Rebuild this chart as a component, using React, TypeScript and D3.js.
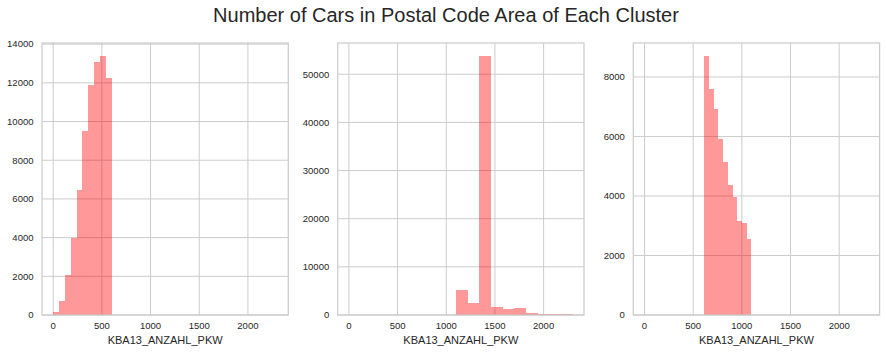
import React, { useRef, useEffect } from "react";
import * as d3 from "d3";

// histogram bins (edges + counts per cluster)
const cluster0Edges = [0, 60, 120, 180, 240, 300, 360, 420, 480, 540, 600];
const cluster0Counts = [160, 730, 2060, 3980, 6470, 9500, 11890, 13080, 13390, 12230];

const cluster1Edges = [1100, 1220, 1340, 1460, 1580, 1700, 1820, 1940, 2060, 2180, 2300];
const cluster1Counts = [5190, 2420, 53800, 1730, 1180, 1390, 350, 200, 170, 160];

const cluster2Edges = [612, 661, 709, 758, 807, 856, 904, 953, 1002, 1050, 1099];
const cluster2Counts = [8706, 7585, 6913, 5916, 5143, 4370, 3978, 3160, 3104, 2555];

const xTicks = [0, 500, 1000, 1500, 2000];
const yTicks0 = [0, 2000, 4000, 6000, 8000, 10000, 12000, 14000];
const yTicks1 = [0, 10000, 20000, 30000, 40000, 50000];
const yTicks2 = [0, 2000, 4000, 6000, 8000];

const title = "Number of Cars in Postal Code Area of Each Cluster";
const xLabel = "KBA13_ANZAHL_PKW";

const App = () => {
  const ref = useRef(null);

  useEffect(() => {
    const width = 886;
    const height = 352;
    d3.select(ref.current).select("svg").remove();

    const svg = d3
      .select(ref.current)
      .append("svg")
      .attr("width", width)
      .attr("height", height)
      .style("font-family", "'Liberation Sans', Arial, sans-serif");

    svg.append("rect").attr("width", width).attr("height", height).attr("fill", "white");

    svg
      .append("text")
      .attr("x", 446)
      .attr("y", 22)
      .attr("text-anchor", "middle")
      .attr("font-size", 20)
      .attr("fill", "#262626")
      .text(title);

    const panels = [
      { left: 42, edges: cluster0Edges, counts: cluster0Counts, ticks: yTicks0 },
      { left: 337.7, edges: cluster1Edges, counts: cluster1Counts, ticks: yTicks1 },
      { left: 633.3, edges: cluster2Edges, counts: cluster2Counts, ticks: yTicks2 },
    ];
    const pw = 246.3;
    const top = 43;
    const bottom = 315;
    const grid = "#cccccc";

    // shared x range across subplots (0..2300 + 5% margin)
    const x = d3.scaleLinear().domain([-115, 2415]).range([0, pw]);

    panels.forEach((p) => {
      const g = svg.append("g").attr("transform", `translate(${p.left},0)`);
      const ymax = d3.max(p.counts) * 1.05;
      const y = d3.scaleLinear().domain([0, ymax]).range([bottom, top]);

      // grid
      g.selectAll(".vg")
        .data(xTicks)
        .enter()
        .append("line")
        .attr("x1", (d) => x(d))
        .attr("x2", (d) => x(d))
        .attr("y1", top)
        .attr("y2", bottom)
        .attr("stroke", grid)
        .attr("stroke-width", 1);
      g.selectAll(".hg")
        .data(p.ticks)
        .enter()
        .append("line")
        .attr("x1", 0)
        .attr("x2", pw)
        .attr("y1", (d) => y(d))
        .attr("y2", (d) => y(d))
        .attr("stroke", grid)
        .attr("stroke-width", 1);

      // bars
      const bins = p.counts.map((c, i) => ({ x0: p.edges[i], x1: p.edges[i + 1], c }));
      g.selectAll(".bar")
        .data(bins)
        .enter()
        .append("rect")
        .attr("x", (d) => x(d.x0))
        .attr("width", (d) => x(d.x1) - x(d.x0))
        .attr("y", (d) => y(d.c))
        .attr("height", (d) => bottom - y(d.c))
        .attr("fill", "red")
        .attr("fill-opacity", 0.4)
        .attr("shape-rendering", "crispEdges");

      // frame
      g.append("rect")
        .attr("x", 0)
        .attr("y", top)
        .attr("width", pw)
        .attr("height", bottom - top)
        .attr("fill", "none")
        .attr("stroke", grid)
        .attr("stroke-width", 1.25);

      // tick labels
      g.selectAll(".xt")
        .data(xTicks)
        .enter()
        .append("text")
        .attr("x", (d) => x(d))
        .attr("y", 328.5)
        .attr("text-anchor", "middle")
        .attr("font-size", 9.5)
        .attr("fill", "#262626")
        .text((d) => d);
      g.selectAll(".yt")
        .data(p.ticks)
        .enter()
        .append("text")
        .attr("x", -8.5)
        .attr("y", (d) => y(d))
        .attr("dy", "0.35em")
        .attr("text-anchor", "end")
        .attr("font-size", 9.5)
        .attr("fill", "#262626")
        .text((d) => d);

      g.append("text")
        .attr("x", pw / 2)
        .attr("y", 344)
        .attr("text-anchor", "middle")
        .attr("font-size", 11)
        .attr("fill", "#262626")
        .text(xLabel);
    });
  }, []);

  return <div ref={ref} style={{ position: "absolute", left: 0, top: 0 }}></div>;
};

export default App;
